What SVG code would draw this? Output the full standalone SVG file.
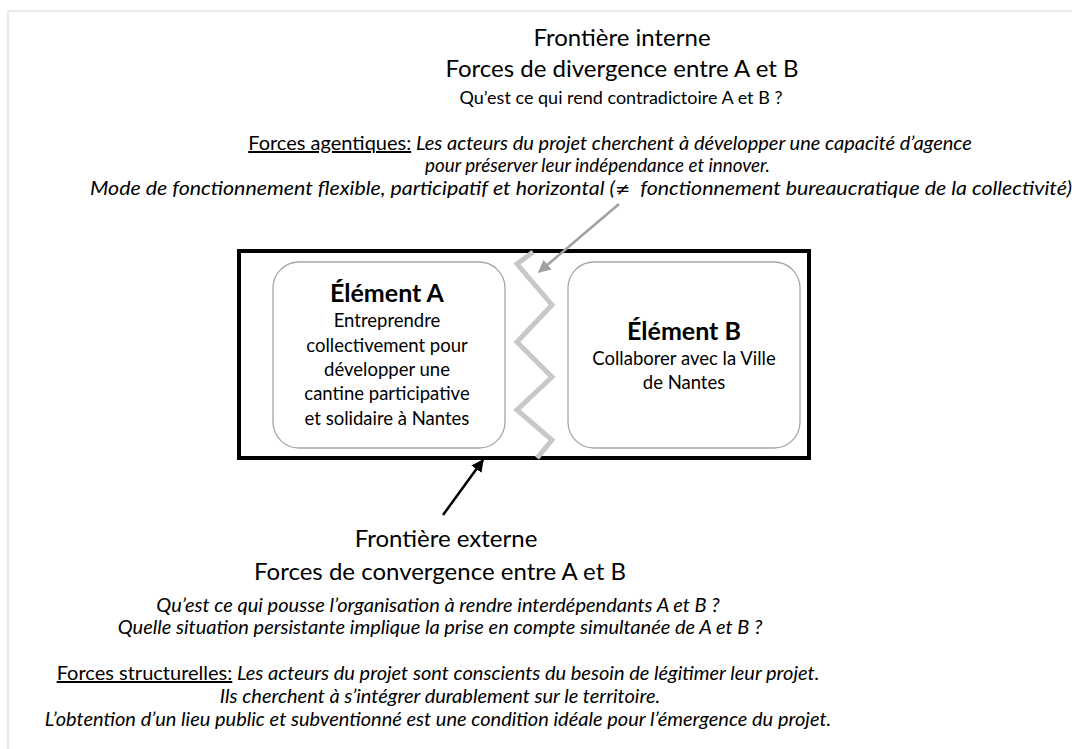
<svg xmlns="http://www.w3.org/2000/svg" width="1072" height="749" viewBox="0 0 1072 749">
  <defs>
    <style>
      text { font-family: Lato, "Open Sans", "Liberation Sans", sans-serif; fill: #000; }
      .head { font-size: 24px; text-anchor: middle; }
      .q { font-size: 18px; text-anchor: middle; }
      .it { font-size: 20px; font-style: italic; text-anchor: middle; }
      .ul { font-style: normal; text-decoration: underline; }
      .sym { font-family: "DejaVu Sans", sans-serif; font-style: normal; font-size: 17px; }
      .title { font-size: 25px; font-weight: bold; text-anchor: middle; }
      .body { font-size: 18.5px; text-anchor: middle; }
      .box { fill: #fff; stroke: #a6a6a6; stroke-width: 1.3; }
      .frame { fill: none; stroke: #000; stroke-width: 4; }
    </style>
    <marker id="ahGray" viewBox="0 0 10 10" refX="9" refY="5" markerWidth="5" markerHeight="5" orient="auto" markerUnits="strokeWidth">
      <path d="M0,0 L10,5 L0,10 z" fill="#a0a0a0"/>
    </marker>
    <marker id="ahBlack" viewBox="0 0 10 10" refX="9" refY="5" markerWidth="5" markerHeight="5" orient="auto" markerUnits="strokeWidth">
      <path d="M0,0 L10,5 L0,10 z" fill="#000"/>
    </marker>
  </defs>

  <rect x="0" y="0" width="1072" height="749" fill="#fff"/>
  <path d="M8,749 L8,11 L1072,11" fill="none" stroke="#e4e4e4" stroke-width="1.5"/>

  <g id="frontiere-interne">
    <text class="head" x="622" y="46">Frontière interne</text>
    <text class="head" x="622" y="77">Forces de divergence entre A et B</text>
    <text class="q" x="621" y="104">Qu’est ce qui rend contradictoire A et B ?</text>
    <text class="it" x="610" y="150"><tspan class="ul">Forces agentiques:</tspan> Les acteurs du projet cherchent à développer une capacité d’agence</text>
    <text class="it" x="425" y="172" style="text-anchor:start; font-size:19.5px" textLength="345" lengthAdjust="spacingAndGlyphs">pour préserver leur indépendance et innover.</text>
    <text class="it" x="90" y="195" style="text-anchor:start" textLength="982" lengthAdjust="spacingAndGlyphs">Mode de fonctionnement flexible, participatif et horizontal (<tspan class="sym">≠</tspan>&#160; fonctionnement bureaucratique de la collectivité)</text>
  </g>

  <g id="frontiere-frame">
    <rect class="frame" x="239" y="251" width="570" height="207"/>
  </g>

  <g id="elementA">
    <rect class="box" x="273" y="262" width="232" height="186" rx="26" ry="26"/>
    <text class="title" x="387" y="302">Élément A</text>
    <text class="body" x="387" y="327">Entreprendre</text>
    <text class="body" x="387" y="352">collectivement pour</text>
    <text class="body" x="387" y="376">développer une</text>
    <text class="body" x="387" y="400">cantine participative</text>
    <text class="body" x="387" y="425">et solidaire à Nantes</text>
  </g>

  <g id="elementB">
    <rect class="box" x="568" y="262" width="232" height="186" rx="26" ry="26"/>
    <text class="title" x="684" y="340">Élément B</text>
    <text class="body" x="684" y="365">Collaborer avec la Ville</text>
    <text class="body" x="684" y="389">de Nantes</text>
  </g>

  <g id="connectors">
    <polyline points="533,252 517,264 552,305 517,342 552,377 517,410 552,440 537,458" fill="none" stroke="#c8c8c8" stroke-width="5" stroke-linejoin="miter"/>
    <line x1="619" y1="204" x2="539" y2="272" stroke="#a0a0a0" stroke-width="2.5" marker-end="url(#ahGray)"/>
    <line x1="443" y1="515" x2="483" y2="460" stroke="#000" stroke-width="2.5" marker-end="url(#ahBlack)"/>
  </g>

  <g id="frontiere-externe">
    <text class="head" x="446" y="547">Frontière externe</text>
    <text class="head" x="440" y="580">Forces de convergence entre A et B</text>
    <text class="it" x="438" y="612">Qu’est ce qui pousse l’organisation à rendre interdépendants A et B ?</text>
    <text class="it" x="440" y="634">Quelle situation persistante implique la prise en compte simultanée de A et B ?</text>
    <text class="it" x="438" y="680"><tspan class="ul">Forces structurelles:</tspan> Les acteurs du projet sont conscients du besoin de légitimer leur projet.</text>
    <text class="it" x="440" y="703">Ils cherchent à s’intégrer durablement sur le territoire.</text>
    <text class="it" x="438" y="726">L’obtention d’un lieu public et subventionné est une condition idéale pour l’émergence du projet.</text>
  </g>
</svg>
